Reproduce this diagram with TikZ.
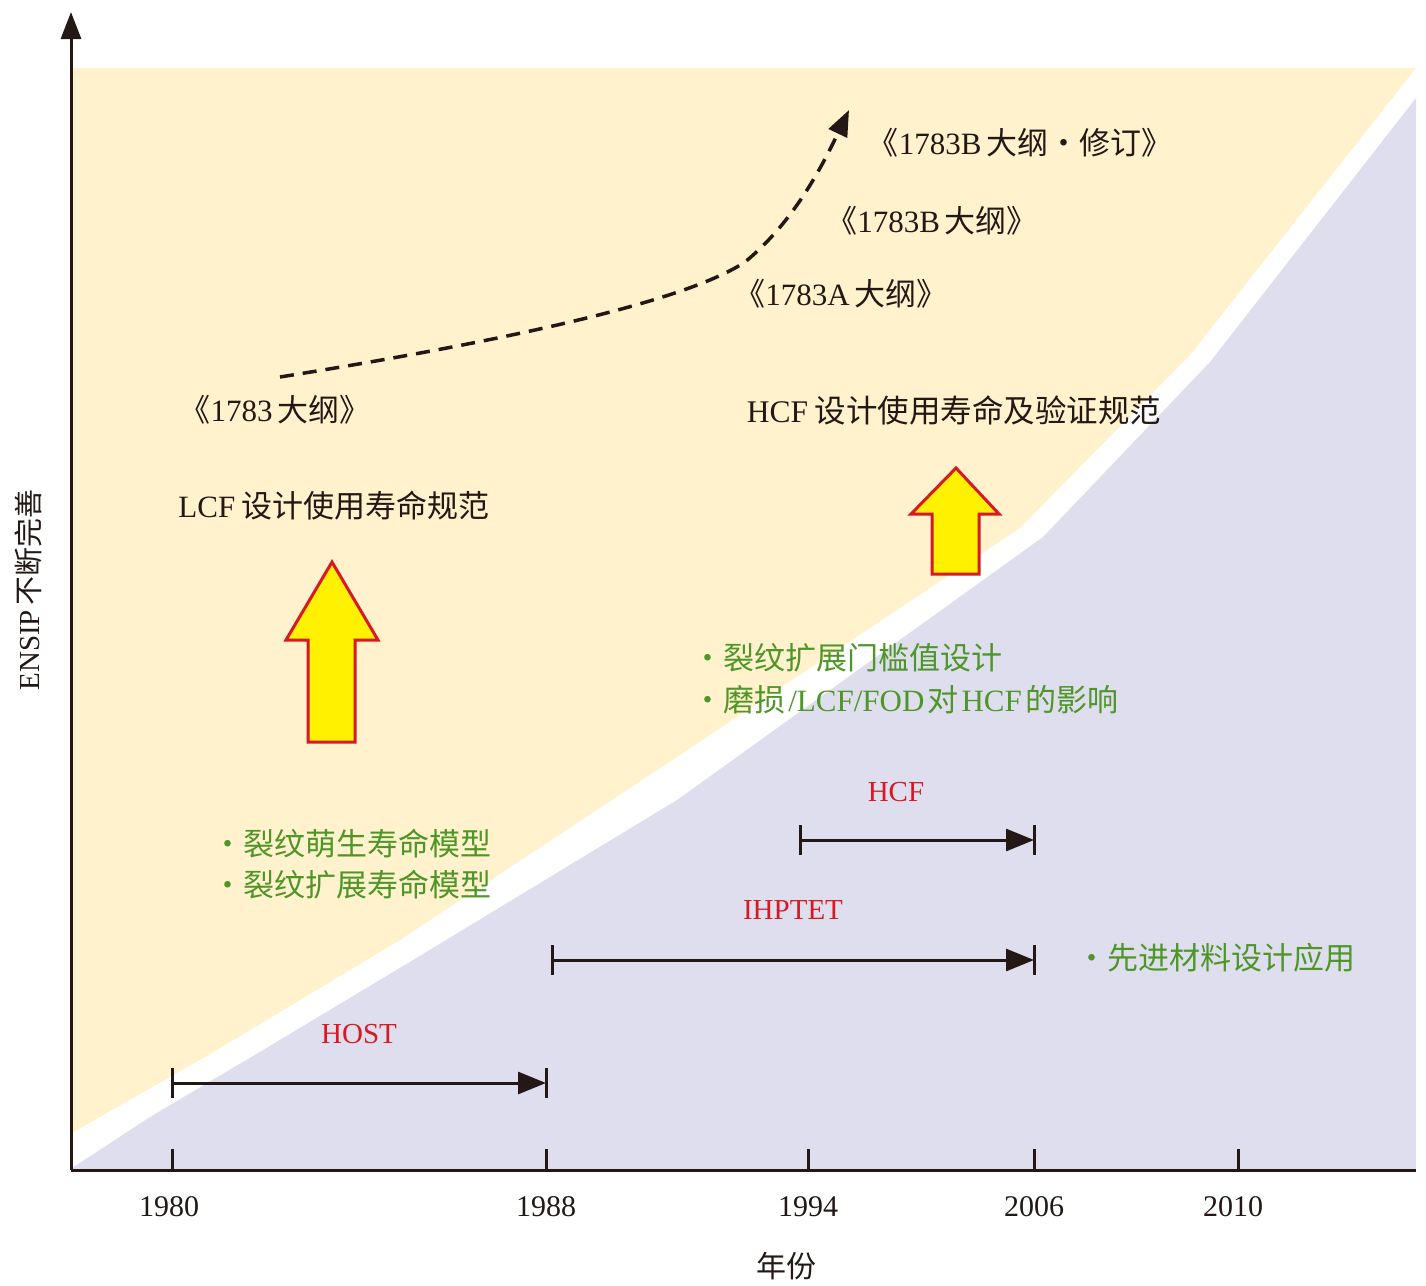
\documentclass[tikz,border=0pt]{standalone}
\usepackage{fontspec}
\setmainfont{Liberation Serif}
\newfontfamily\cjk{Noto Sans CJK SC}
\newcommand{\zh}[1]{{\cjk #1}}
\usetikzlibrary{arrows.meta}
\definecolor{bgyellow}{RGB}{255,242,204}
\definecolor{bglav}{RGB}{223,222,238}
\definecolor{axiscol}{RGB}{35,24,21}
\definecolor{lblred}{RGB}{215,25,35}
\definecolor{lblgreen}{RGB}{78,150,40}
\definecolor{arrowyellow}{RGB}{255,241,0}
\definecolor{arrowred}{RGB}{215,25,35}
\tikzset{
  txt/.style={inner sep=0pt, text=axiscol, font=\fontsize{31}{36}\selectfont},
  ytxt/.style={inner sep=0pt, text=axiscol, font=\fontsize{29}{34}\selectfont},
  bigtxt/.style={inner sep=0pt, text=axiscol, font=\fontsize{31.5}{38}\selectfont},
  greentxt/.style={inner sep=0pt, anchor=west, text=lblgreen, font=\fontsize{31}{36}\selectfont},
  redtxt/.style={inner sep=0pt, text=lblred, font=\fontsize{29}{34}\selectfont},
  yeartxt/.style={inner sep=0pt, text=axiscol, font=\fontsize{30}{36}\selectfont},
  axisline/.style={draw=axiscol, line width=3pt},
  tickline/.style={draw=axiscol, line width=3pt},
  spanline/.style={draw=axiscol, line width=3pt, -{Triangle[length=28pt,width=22pt]}},
  barline/.style={draw=axiscol, line width=3pt},
  blockarrow/.style={fill=arrowyellow, draw=arrowred, line width=3pt, line join=miter},
  dashcurve/.style={draw=axiscol, line width=3.5pt, dash pattern=on 14pt off 9pt, -{Triangle[length=26pt,width=20pt]}}
}
\begin{document}
\begin{tikzpicture}[x=1pt,y=-1pt]
\useasboundingbox (0,0) rectangle (1426,1285);
% background regions
\fill[bgyellow] (72,68) -- (1416,68) -- (1190,355) -- (1020,528) -- (665,765) -- (400,940) -- (217,1050) -- (72,1133) -- cycle;
\fill[bglav] (72,1168) -- (150,1117) -- (263,1050) -- (413,960) -- (677,800) -- (1043,537) -- (1210,362) -- (1416,98) -- (1416,1170) -- (72,1170) -- cycle;

% axes
\coordinate (origin) at (71,1170);
\coordinate (ytop) at (71,12);
\coordinate (xend) at (1416,1170);
\draw[axisline, -{Triangle[length=27pt,width=20pt]}] (origin) -- (ytop);
\draw[axisline] (origin) -- (xend);
\foreach \xx/\nm in {172/t80,546/t88,808/t94,1034/t06,1238/t10}{
  \coordinate (\nm) at (\xx,1170);
  \draw[tickline] (\nm) -- ++(0,-21);
}
\node[yeartxt] (y80) at (169,1207) {1980};
\node[yeartxt] (y88) at (546,1207) {1988};
\node[yeartxt] (y94) at (808,1207) {1994};
\node[yeartxt] (y06) at (1034,1207) {2006};
\node[yeartxt] (y10) at (1233,1207) {2010};
\node[yeartxt] (xlabel) at (786,1266) {\zh{年份}};
\node[ytxt, rotate=90] (ylabel) at (28,590) {ENSIP\hspace{0.15em}\zh{不断完善}};

% block arrows
\draw[blockarrow] (308,742) -- (308,640) -- (286,640) -- (332,562) -- (378,640) -- (355,640) -- (355,742) -- cycle;
\draw[blockarrow] (932,574) -- (932,514) -- (911,514) -- (956,468) -- (999,514) -- (979,514) -- (979,574) -- cycle;

% dashed curve
\coordinate (dstart) at (280,377);
\coordinate (dmid) at (745,262);
\coordinate (dend) at (849,110);
\draw[dashcurve] (dstart) .. controls (480,345) and (680,305) .. (dmid) .. controls (790,225) and (818,175) .. (dend);

% black texts
\node[txt] (s1783bR) at (1020,143) {\zh{《}1783B\hspace{0.15em}\zh{大纲・修订》}};
\node[txt] (s1783b) at (932,221) {\zh{《}1783B\hspace{0.15em}\zh{大纲》}};
\node[txt] (s1783a) at (841,294) {\zh{《}1783A\hspace{0.15em}\zh{大纲》}};
\node[txt] (s1783) at (275,410) {\zh{《}1783\hspace{0.15em}\zh{大纲》}};
\node[bigtxt] (hcfspec) at (954,410) {HCF\hspace{0.2em}\zh{设计使用寿命及验证规范}};
\node[txt] (lcfspec) at (334,506) {LCF\hspace{0.2em}\zh{设计使用寿命规范}};

% green texts
\node[greentxt] (g1) at (692,658) {\zh{・裂纹扩展门槛值设计}};
\node[greentxt] (g2) at (692,700) {\zh{・磨损}\hspace{0.1em}/LCF/FOD\hspace{0.1em}\zh{对}\hspace{0.1em}HCF\hspace{0.1em}\zh{的影响}};
\node[greentxt] (g3) at (212,844) {\zh{・裂纹萌生寿命模型}};
\node[greentxt] (g4) at (212,885) {\zh{・裂纹扩展寿命模型}};
\node[greentxt] (g5) at (1076,958) {\zh{・先进材料设计应用}};

% timeline spans
\coordinate (hcfA) at (800,840);
\coordinate (hcfB) at (1034,840);
\coordinate (ihA) at (552,960);
\coordinate (ihB) at (1034,960);
\coordinate (hostA) at (172,1083);
\coordinate (hostB) at (546,1083);
\foreach \c in {hcfA,hcfB,ihA,ihB,hostA,hostB}{
  \draw[barline] ([yshift=15pt]\c) -- ([yshift=-15pt]\c);
}
\draw[spanline] (hcfA) -- (hcfB);
\draw[spanline] (ihA) -- (ihB);
\draw[spanline] (hostA) -- (hostB);
\node[redtxt] (lhcf) at (896,792) {HCF};
\node[redtxt] (lih) at (793,910) {IHPTET};
\node[redtxt] (lhost) at (359,1034) {HOST};
\end{tikzpicture}
\end{document}
